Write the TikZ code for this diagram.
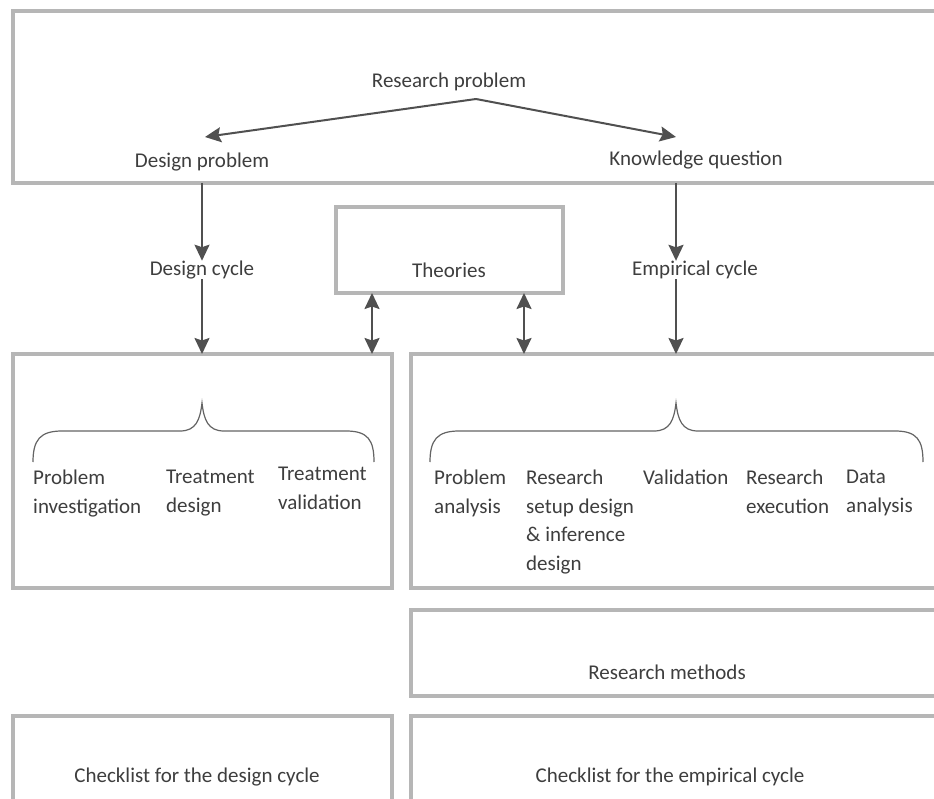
\documentclass[tikz,border=0pt]{standalone}
\usepackage{fontspec}
\setmainfont{Carlito}
\usetikzlibrary{arrows.meta}
\definecolor{panelgray}{RGB}{182,182,182}
\definecolor{inkgray}{RGB}{62,62,62}
\definecolor{arrowgray}{RGB}{80,80,80}
\definecolor{bracegray}{RGB}{100,100,100}
\begin{document}
\begin{tikzpicture}[x=1pt,y=-1pt,
  panel/.style={draw=panelgray, line width=3.8pt, inner sep=0pt, outer sep=0pt, fill=white},
  label/.style={text=inkgray, inner sep=0pt, font=\fontsize{21}{28.5}\selectfont},
  steplist/.style={label, align=left, anchor=north west},
  head/.tip={Stealth[length=16pt,width=15pt,inset=2.5pt]},
  flow/.style={draw=arrowgray, line width=2pt, -head},
  twoway/.style={draw=arrowgray, line width=2pt, head-head},
  brace/.style={draw=bracegray, line width=1.2pt}]
\useasboundingbox (0,0) rectangle (934,799);
\clip (0,0) rectangle (934,799);
\fill[white] (0,0) rectangle (934,799);

% panels
\node[panel, minimum width=937pt, minimum height=172pt] (top) at (481.5,97) {};
\node[panel, minimum width=227pt, minimum height=86pt] (theo) at (449.5,250) {};
\node[panel, minimum width=379pt, minimum height=234pt] (dbox) at (202.5,471) {};
\node[panel, minimum width=539pt, minimum height=234pt] (ebox) at (680.5,471) {};
\node[panel, minimum width=539pt, minimum height=86pt] (mbox) at (680.5,653) {};
\node[panel, minimum width=379pt, minimum height=94pt] (cdbox) at (202.5,763) {};
\node[panel, minimum width=539pt, minimum height=94pt] (cebox) at (680.5,763) {};

% labels
\node[label] (rp) at (449,82) {Research problem};
\node[label] (dp) at (202,162) {Design problem};
\node[label] (kq) at (696,160) {Knowledge question};
\node[label] (dc) at (202,270) {Design cycle};
\node[label] (ec) at (695,270) {Empirical cycle};
\node[label] (th) at (449,270) {Theories};
\node[label] (rm) at (667,672) {Research methods};
\node[label] (cd) at (197,777) {Checklist for the design cycle};
\node[label] (ce) at (670,777) {Checklist for the empirical cycle};

% design cycle steps
\node[steplist] (pi) at (33,470) {Problem\\investigation};
\node[steplist] (tdz) at (166,470) {Treatment\\design};
\node[steplist] (tv) at (278,467) {Treatment\\validation};

% empirical cycle steps
\node[steplist] (pa) at (434,470) {Problem\\analysis};
\node[steplist] (rs) at (526,470) {Research\\setup design\\\& inference\\design};
\node[steplist] (va) at (643,470) {Validation};
\node[steplist] (rx) at (746,470) {Research\\execution};
\node[steplist] (da) at (846,470) {Data\\analysis};

% fork from the research problem
\coordinate (fork) at (476,99);
\coordinate (dtip) at (205,137);
\coordinate (ktip) at (676,137);
\draw[flow] (fork) -- (dtip);
\draw[flow] (fork) -- (ktip);

% design column
\draw[flow] (dc |- top.south) -- (dc.north);
\draw[flow] (dc.south) -- (dc |- dbox.north);

% empirical column
\coordinate (ecol) at (676,270);
\draw[flow] (ecol |- top.south) -- (ecol |- ec.north);
\draw[flow] (ecol |- ec.south) -- (ecol |- ebox.north);

% theories links
\coordinate (tl) at (372,293);
\coordinate (tr) at (524,293);
\draw[twoway] (tl |- theo.south) -- (tl |- dbox.north);
\draw[twoway] (tr |- theo.south) -- (tr |- ebox.north);

% braces
\draw[brace] (33,462) .. controls (33,440) and (40,431) .. (62,431)
  -- (180,431) .. controls (196,431) and (200,420) .. (202,403)
  .. controls (204,420) and (208,431) .. (224,431)
  -- (346,431) .. controls (368,431) and (374,440) .. (374,462);
\draw[brace] (430,462) .. controls (430,440) and (437,431) .. (459,431)
  -- (654,431) .. controls (670,431) and (674,420) .. (676,403)
  .. controls (678,420) and (682,431) .. (698,431)
  -- (895,431) .. controls (917,431) and (923,440) .. (923,462);
\end{tikzpicture}
\end{document}
